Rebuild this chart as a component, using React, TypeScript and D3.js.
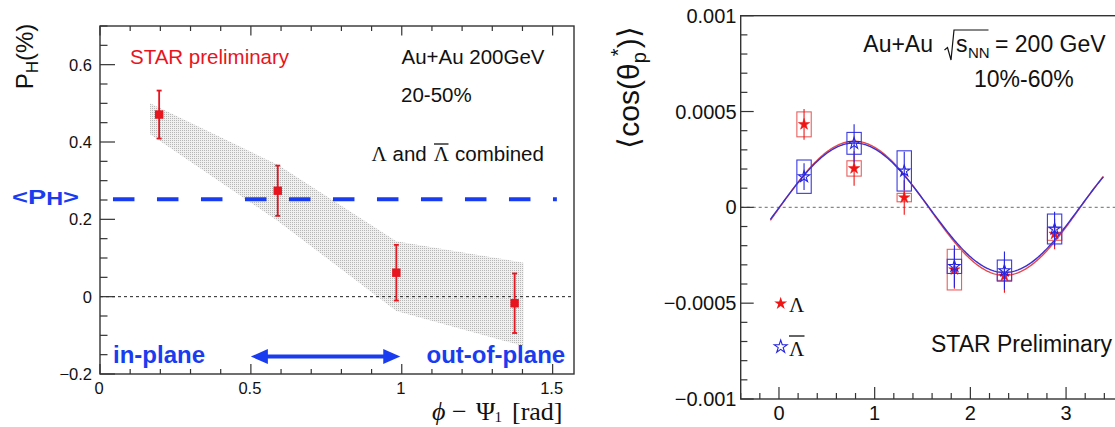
import React from 'react';
import * as d3 from 'd3';

const W = 1115;
const H = 427;

// ---- Left panel: global polarisation vs. azimuth relative to the 1st-order event plane
const phiBins = [0.196, 0.589, 0.982, 1.374];
const polValues = [0.471, 0.274, 0.062, -0.017];
const polStat = [0.062, 0.065, 0.072, 0.077];
const bandX = [0.166, 0.589, 0.982, 1.404];
const bandHigh = [0.5, 0.341, 0.143, 0.088];
const bandLow = [0.42, 0.196, -0.037, -0.128];
const meanPol = 0.252;
const leftYTickLabels = ['\u22120.2', '0', '0.2', '0.4', '0.6'];
const leftYTickValues = [-0.2, 0, 0.2, 0.4, 0.6];
const leftXTickLabels = ['0', '0.5', '1', '1.5'];
const leftXTickValues = [0, 0.5, 1, 1.5];

// ---- Right panel: <cos(theta_p*)> vs. azimuth relative to the 2nd-order event plane
const psiBins = [0.262, 0.785, 1.309, 1.833, 2.356, 2.88];
const lamValues = [0.000433, 0.000203, 0.000051, -0.000325, -0.000358, -0.000139];
const lamStat = [0.00008, 0.00009, 0.00009, 0.0001, 0.000087, 0.00008];
const lamSys = [0.000065, 0.00004, 0.000022, 0.000106, 0.000023, 0.000033];
const alamValues = [0.00016, 0.000334, 0.00019, -0.000308, -0.00033, -0.000113];
const alamStat = [0.00007, 0.0001, 0.0001, 0.00011, 0.0001, 0.00009];
const alamSys = [0.000087, 0.000057, 0.000105, 0.000037, 0.000055, 0.000078];
// fit: offset + amplitude * sin(2 phi), [Lambda, anti-Lambda]
const fitAmp = [0.00035, 0.000338];
const fitOffset = [-0.000005, -0.000002];
const fitRange = [-0.09, 3.39];
const rightYTickLabels = ['\u22120.001', '\u22120.0005', '0', '0.0005', '0.001'];
const rightYTickValues = [-0.001, -0.0005, 0, 0.0005, 0.001];
const rightXTickLabels = ['0', '1', '2', '3'];
const rightXTickValues = [0, 1, 2, 3];

const SANS = '"Liberation Sans", Arial, Helvetica, sans-serif';
const SERIF = '"Liberation Serif", "Times New Roman", serif';
const RED = '#e8141e';
const BLUE = '#1a3cf0';
const AXIS = '#333';

const isMult = (v: number, step: number) => Math.abs(v / step - Math.round(v / step)) < 1e-6;

export default function App() {
  const xL = d3.scaleLinear().domain([0, Math.PI / 2]).range([100, 574]);
  const yL = d3.scaleLinear().domain([-0.2, 0.7]).range([374, 26]);
  const xR = d3.scaleLinear().domain([-0.4, 3.55]).range([740.7, 1118.7]);
  const yR = d3.scaleLinear().domain([-0.001, 0.001]).range([399, 15.7]);

  const band = bandX.map((x, i) => ({ x, lo: bandLow[i], hi: bandHigh[i] }));
  const bandPath = d3
    .area<{ x: number; lo: number; hi: number }>()
    .x((d) => xL(d.x))
    .y0((d) => yL(d.lo))
    .y1((d) => yL(d.hi))(band) as string;

  const lyTicks = d3.range(0, 19).map((i) => +(-0.2 + i * 0.05).toFixed(4));
  const lxTicks = d3.range(0, 16).map((i) => +(i * 0.1).toFixed(4));
  const ryTicks = d3.range(0, 21).map((i) => +(-0.001 + i * 0.0001).toFixed(6));
  const rxTicks = d3.range(0, 20).map((i) => +(-0.4 + i * 0.2).toFixed(4));

  const fitLine = (k: number) => {
    const xs = d3.range(fitRange[0], fitRange[1] + 1e-9, 0.01);
    return d3
      .line<number>()
      .x((x) => xR(x))
      .y((x) => yR(fitOffset[k] + fitAmp[k] * Math.sin(2 * x)))(xs) as string;
  };

  const starR = 6;
  const starPath = d3.symbol(d3.symbolStar, (starR * starR) / 0.8908130915292852)() as string;
  const legendStar = d3.symbol(d3.symbolStar, (6.8 * 6.8) / 0.8908130915292852)() as string;
  const boxHalf = 0.075;

  const drawSeries = (
    values: number[],
    stat: number[],
    sys: number[],
    color: string,
    boxColor: string,
    filled: boolean,
  ) =>
    psiBins.map((x, i) => {
      const cx = xR(x);
      const cy = yR(values[i]);
      return (
        <g key={i}>
          <rect
            x={xR(x - boxHalf)}
            y={yR(values[i] + sys[i])}
            width={xR(x + boxHalf) - xR(x - boxHalf)}
            height={yR(values[i] - sys[i]) - yR(values[i] + sys[i])}
            fill="none"
            stroke={boxColor}
            strokeWidth={1.1}
          />
          <line x1={cx} x2={cx} y1={yR(values[i] + stat[i])} y2={yR(values[i] - stat[i])} stroke={color} strokeWidth={1.1} />
          <path
            d={starPath}
            transform={`translate(${cx},${cy})`}
            fill={filled ? color : 'none'}
            stroke={color}
            strokeWidth={filled ? 0.5 : 1.1}
          />
        </g>
      );
    });

  const arrowY = yL(-0.155);
  const arrowX0 = xL(0.5);
  const arrowX1 = xL(0.995);

  return (
    <div style={{ position: 'absolute', left: 0, top: 0 }}>
      <svg width={W} height={H} viewBox={`0 0 ${W} ${H}`} style={{ display: 'block', background: '#fff' }}>
        <defs>
          <pattern id="stipple" width={2} height={2} patternUnits="userSpaceOnUse">
            <rect width={2} height={2} fill="#f0f0f0" />
            <rect width={1} height={1} fill="#b6b6b6" />
          </pattern>
        </defs>

        {/* ================= LEFT PANEL ================= */}
        <path d={bandPath} fill="url(#stipple)" stroke="none" />

        {/* zero line */}
        <line x1={xL(0)} x2={xL(Math.PI / 2)} y1={yL(0)} y2={yL(0)} stroke="#222" strokeWidth={1} strokeDasharray="3 3" />

        {/* mean polarisation */}
        <line
          x1={xL(0.043)}
          x2={xL(1.514)}
          y1={yL(meanPol)}
          y2={yL(meanPol)}
          stroke={BLUE}
          strokeWidth={4}
          strokeDasharray="21.5 22.5"
        />

        {/* data points with statistical errors */}
        {phiBins.map((x, i) => {
          const cx = xL(x);
          const t = yL(polValues[i] + polStat[i]);
          const b = yL(polValues[i] - polStat[i]);
          return (
            <g key={i} stroke={RED} strokeWidth={1.8}>
              <line x1={cx} x2={cx} y1={t} y2={b} />
              <line x1={cx - 2.5} x2={cx + 2.5} y1={t} y2={t} />
              <line x1={cx - 2.5} x2={cx + 2.5} y1={b} y2={b} />
              <rect x={cx - 4.2} y={yL(polValues[i]) - 4.2} width={8.4} height={8.4} fill={RED} stroke="none" />
            </g>
          );
        })}

        {/* frame and ticks */}
        <rect x={xL(0)} y={yL(0.7)} width={xL(Math.PI / 2) - xL(0)} height={yL(-0.2) - yL(0.7)} fill="none" stroke={AXIS} strokeWidth={1.4} />
        {lyTicks.map((v) => (
          <line key={'ly' + v} x1={xL(0)} x2={xL(0) + (isMult(v, 0.2) ? 15 : 7.5)} y1={yL(v)} y2={yL(v)} stroke={AXIS} strokeWidth={1.2} />
        ))}
        {lxTicks.map((v) => (
          <g key={'lx' + v} stroke={AXIS} strokeWidth={1.2}>
            <line x1={xL(v)} x2={xL(v)} y1={yL(-0.2)} y2={yL(-0.2) - (isMult(v, 0.5) ? 10 : 5)} />
            <line x1={xL(v)} x2={xL(v)} y1={yL(0.7)} y2={yL(0.7) + (isMult(v, 0.5) ? 9.5 : 5)} />
          </g>
        ))}
        {leftYTickValues.map((v, i) => (
          <text key={'lyl' + i} x={92} y={yL(v) + 6} textAnchor="end" fontFamily={SANS} fontSize={16.5} fill="#111">
            {leftYTickLabels[i]}
          </text>
        ))}
        {leftXTickValues.map((v, i) => (
          <text key={'lxl' + i} x={xL(v) - 1} y={394} textAnchor="middle" fontFamily={SANS} fontSize={16.5} fill="#111">
            {leftXTickLabels[i]}
          </text>
        ))}

        {/* axis titles */}
        <text transform="translate(32.5,56.5) rotate(-90)" textAnchor="middle" fontFamily={SANS} fontSize={24} fill="#111">
          P<tspan fontSize={17} dy={5}>H</tspan>
          <tspan dy={-5}>(%)</tspan>
        </text>
        <g fontFamily={SERIF} fontSize={26} fill="#111">
          <text x={432} y={420} fontStyle="italic">ϕ</text>
          <text x={452} y={420}>−</text>
          <text x={476} y={420}>Ψ</text>
          <text x={494.5} y={422} fontSize={15}>1</text>
          <text x={512} y={420}>[rad]</text>
        </g>

        {/* annotations */}
        <text x={130} y={64} fontFamily={SANS} fontSize={20.5} fill={RED}>STAR preliminary</text>
        <text x={401.5} y={64} fontFamily={SANS} fontSize={20.5} fill="#111">Au+Au 200GeV</text>
        <text x={401} y={101.7} fontFamily={SANS} fontSize={20.5} fill="#111">20-50%</text>
        <text x={371.5} y={161} fontFamily={SERIF} fontSize={21} fill="#111">Λ</text>
        <text x={392.5} y={161} fontFamily={SANS} fontSize={20.5} fill="#111">and</text>
        <text x={433.8} y={161} fontFamily={SERIF} fontSize={21} fill="#111">Λ</text>
        <line x1={434} x2={448.5} y1={144} y2={144} stroke="#111" strokeWidth={1.3} />
        <text x={455} y={161} fontFamily={SANS} fontSize={20.5} fill="#111">combined</text>

        <text
          x={0}
          y={0}
          transform="translate(12,204) scale(1.3,1)"
          fontFamily={SANS}
          fontWeight="bold"
          fontSize={21}
          fill={BLUE}
        >
          {'<P'}
          <tspan fontSize={18} dy={1}>H</tspan>
          <tspan dy={-1}>{'>'}</tspan>
        </text>

        <text x={113} y={363.3} fontFamily={SANS} fontWeight="bold" fontSize={24} fill={BLUE}>in-plane</text>
        <text x={426.5} y={363.3} fontFamily={SANS} fontWeight="bold" fontSize={24} fill={BLUE}>out-of-plane</text>

        {/* double-headed arrow */}
        <line x1={arrowX0 + 12} x2={arrowX1 - 12} y1={arrowY} y2={arrowY} stroke={BLUE} strokeWidth={4} />
        <path d={`M${arrowX0},${arrowY} L${arrowX0 + 17},${arrowY - 7.5} L${arrowX0 + 17},${arrowY + 7.5} Z`} fill={BLUE} />
        <path d={`M${arrowX1},${arrowY} L${arrowX1 - 17},${arrowY - 7.5} L${arrowX1 - 17},${arrowY + 7.5} Z`} fill={BLUE} />

        {/* ================= RIGHT PANEL ================= */}
        <line x1={xR(-0.4)} x2={W} y1={yR(0)} y2={yR(0)} stroke="#888" strokeWidth={1.1} strokeDasharray="3 3" />

        <path d={fitLine(0)} fill="none" stroke="#e84a4a" strokeWidth={1.4} />
        <path d={fitLine(1)} fill="none" stroke="#3a2fd0" strokeWidth={1.4} />

        {drawSeries(lamValues, lamStat, lamSys, '#f01515', '#e86060', true)}
        {drawSeries(alamValues, alamStat, alamSys, '#2424e0', '#3a3ae0', false)}

        {/* frame and ticks */}
        <rect x={xR(-0.4)} y={yR(0.001)} width={xR(3.55) - xR(-0.4)} height={yR(-0.001) - yR(0.001)} fill="none" stroke={AXIS} strokeWidth={1.4} />
        {ryTicks.map((v) => (
          <line key={'ry' + v} x1={xR(-0.4)} x2={xR(-0.4) + (isMult(v, 0.0005) ? 13 : 6.7)} y1={yR(v)} y2={yR(v)} stroke={AXIS} strokeWidth={1.2} />
        ))}
        {rxTicks.map((v) => (
          <line key={'rx' + v} x1={xR(v)} x2={xR(v)} y1={yR(-0.001)} y2={yR(-0.001) - (isMult(v, 1) ? 12 : 6)} stroke={AXIS} strokeWidth={1.2} />
        ))}
        {rightYTickValues.map((v, i) => (
          <text key={'ryl' + i} x={736.5} y={yR(v) + 7} textAnchor="end" fontFamily={SANS} fontSize={20} fill="#111">
            {rightYTickLabels[i]}
          </text>
        ))}
        {rightXTickValues.map((v, i) => (
          <text key={'rxl' + i} x={xR(v)} y={420} textAnchor="middle" fontFamily={SANS} fontSize={20} fill="#111">
            {rightXTickLabels[i]}
          </text>
        ))}

        {/* y-axis title */}
        <text transform="translate(638.5,87.5) rotate(-90)" textAnchor="middle" fontFamily={SANS} fontSize={30} fill="#111">
          ⟨cos(θ<tspan fontSize={20} dy={7}>p</tspan>
          <tspan fontSize={20} dx={-4} dy={-21}>*</tspan>
          <tspan dy={14}>)⟩</tspan>
        </text>

        {/* annotations */}
        <text x={863.3} y={51.7} fontFamily={SANS} fontSize={23} fill="#111">Au+Au</text>
        <path d="M944.5,50 L947.5,47.5 L951,60 L954,30 L988.5,30" fill="none" stroke="#111" strokeWidth={1.2} />
        <text x={956} y={51.7} fontFamily={SANS} fontSize={23} fill="#111">s</text>
        <text x={968} y={58} fontFamily={SANS} fontSize={15} fill="#111">NN</text>
        <text x={995} y={51.7} fontFamily={SANS} fontSize={23} fill="#111">= 200 GeV</text>
        <text x={974} y={87} fontFamily={SANS} fontSize={23} fill="#111">10%-60%</text>

        <text x={931} y={351.7} fontFamily={SANS} fontSize={23} fill="#111">STAR Preliminary</text>

        {/* legend */}
        <path d={legendStar} transform={`translate(780.7,303.5)`} fill="#f01515" />
        <text x={789} y={311.7} fontFamily={SERIF} fontSize={21} fill="#111">Λ</text>
        <path d={legendStar} transform={`translate(780.7,346.8)`} fill="none" stroke="#2424e0" strokeWidth={1.1} />
        <text x={789} y={355.7} fontFamily={SERIF} fontSize={21} fill="#111">Λ</text>
        <line x1={789} x2={804.5} y1={336} y2={336} stroke="#111" strokeWidth={1.3} />
      </svg>
    </div>
  );
}
